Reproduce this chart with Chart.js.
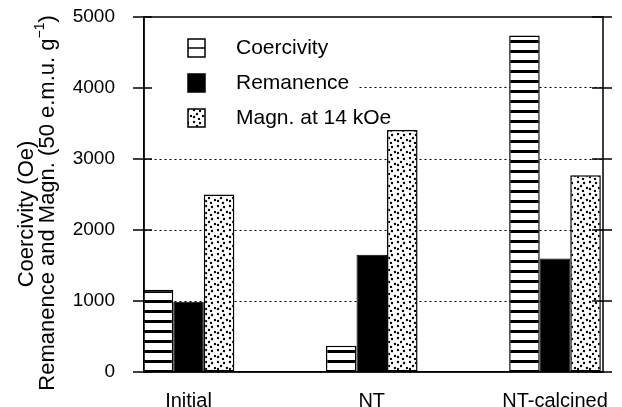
<!DOCTYPE html>
<html>
<head>
<meta charset="utf-8">
<script src="https://cdn.jsdelivr.net/npm/chart.js@4"></script>
<style>
html,body{margin:0;padding:0;background:#fff;}
#wrap{width:622px;height:407px;position:relative;}
</style>
</head>
<body>
<div id="wrap"><canvas id="c" width="622" height="407"></canvas></div>
<script>
// ---- data ----
const categories = ['Initial', 'NT', 'NT-calcined'];
const coercivity = [1160, 370, 4740];
const remanence = [990, 1650, 1600];
const magnetization = [2500, 3410, 2770];
const seriesLabels = ['Coercivity', 'Remanence', 'Magn. at 14 kOe'];
const yTicks = [0, 1000, 2000, 3000, 4000, 5000];
const titleLine1 = 'Coercivity (Oe)';
const titleLine2 = 'Remanence and Magn. (50 e.m.u. g';
const titleSup = '\u22121';
const titleEnd = ')';

const FONT = '"Liberation Sans", Arial, Helvetica, sans-serif';

// ---- patterns ----
function stripePattern() {
  const c = document.createElement('canvas');
  c.width = 8; c.height = 10;
  const x = c.getContext('2d');
  x.fillStyle = '#fff'; x.fillRect(0, 0, 8, 10);
  x.fillStyle = '#000'; x.fillRect(0, 0, 8, 3);
  return x.createPattern(c, 'repeat');
}
function dotPattern() {
  const c = document.createElement('canvas');
  c.width = 12; c.height = 12;
  const x = c.getContext('2d');
  x.fillStyle = '#fff'; x.fillRect(0, 0, 12, 12);
  x.fillStyle = '#000';
  const pts = [[2, 2], [8, 3], [5, 6], [11, 8], [2, 9], [7, 11]];
  pts.forEach(p => { x.beginPath(); x.arc(p[0], p[1], 1.2, 0, Math.PI * 2); x.fill(); });
  return x.createPattern(c, 'repeat');
}
const ctx0 = document.getElementById('c').getContext('2d');
const stripes = stripePattern();
const dots = dotPattern();

const toXY = arr => arr.map((v, i) => ({ x: i, y: v }));

// ---- plugins ----
const coverPlugin = {
  id: 'cover',
  beforeDatasetsDraw(chart) {
    const { ctx, chartArea } = chart;
    ctx.save();
    ctx.fillStyle = '#fff';
    ctx.fillRect(chartArea.left + 1, chartArea.top + 2, 358 - chartArea.left, 118);
    ctx.restore();
  }
};

const framePlugin = {
  id: 'frame',
  afterDatasetsDraw(chart) {
    const { ctx, chartArea, scales } = chart;
    const y = scales.y;
    ctx.save();
    ctx.strokeStyle = '#000';
    ctx.lineWidth = 1.5;
    ctx.beginPath();
    ctx.moveTo(chartArea.left, chartArea.top);
    ctx.lineTo(chartArea.right, chartArea.top);
    ctx.lineTo(chartArea.right, chartArea.bottom);
    ctx.lineTo(chartArea.left, chartArea.bottom);
    ctx.lineTo(chartArea.left, chartArea.top);
    ctx.stroke();
    yTicks.forEach(v => {
      const py = y.getPixelForValue(v);
      ctx.beginPath();
      ctx.moveTo(chartArea.left - 11, py); ctx.lineTo(chartArea.left + 8, py);
      ctx.moveTo(chartArea.right - 11, py); ctx.lineTo(chartArea.right + 9, py);
      ctx.stroke();
    });
    ctx.restore();
  },
  afterDraw(chart) {
    const { ctx } = chart;
    const TS = 22;
    ctx.save();
    ctx.fillStyle = '#000';
    ctx.font = TS + 'px ' + FONT;
    ctx.textBaseline = 'middle';
    ctx.translate(27, 214);
    ctx.rotate(-Math.PI / 2);
    ctx.textAlign = 'center';
    ctx.fillText(titleLine1, 0, 0);
    ctx.restore();

    ctx.save();
    ctx.fillStyle = '#000';
    ctx.textBaseline = 'middle';
    ctx.translate(48, 203);
    ctx.rotate(-Math.PI / 2);
    ctx.textAlign = 'left';
    ctx.font = TS + 'px ' + FONT;
    const w1 = ctx.measureText(titleLine2).width;
    const w3 = ctx.measureText(titleEnd).width;
    ctx.font = '14px ' + FONT;
    const w2 = ctx.measureText(titleSup).width;
    let x0 = -(w1 + w2 + w3) / 2;
    ctx.font = TS + 'px ' + FONT;
    ctx.fillText(titleLine2, x0, 0);
    ctx.font = '14px ' + FONT;
    ctx.fillText(titleSup, x0 + w1, -8);
    ctx.font = TS + 'px ' + FONT;
    ctx.fillText(titleEnd, x0 + w1 + w2, 0);
    ctx.restore();

    // Legend
    ctx.save();
    const rows = [48, 83, 118];
    const fills = [null, '#000', dots];
    ctx.font = '21px ' + FONT;
    ctx.textBaseline = 'middle';
    ctx.textAlign = 'left';
    chart.data.datasets.forEach((ds, i) => {
      const cy = rows[i];
      const bx = 188, bw = 17, bh = 18, by = cy - bh / 2;
      ctx.lineWidth = 1.5;
      ctx.strokeStyle = '#000';
      if (i === 0) {
        ctx.fillStyle = '#fff';
        ctx.fillRect(bx, by, bw, bh);
        ctx.strokeRect(bx, by, bw, bh);
        ctx.beginPath(); ctx.moveTo(bx, cy); ctx.lineTo(bx + bw, cy); ctx.stroke();
      } else {
        ctx.fillStyle = fills[i];
        ctx.fillRect(bx, by, bw, bh);
        ctx.strokeRect(bx, by, bw, bh);
      }
      ctx.fillStyle = '#000';
      ctx.fillText(ds.label, 236, cy);
    });
    ctx.restore();
  }
};

new Chart(ctx0, {
  type: 'bar',
  data: {
    datasets: [
      { label: seriesLabels[0], data: toXY(coercivity), backgroundColor: stripes, borderColor: '#000', borderWidth: 1.5, borderSkipped: false },
      { label: seriesLabels[1], data: toXY(remanence), backgroundColor: '#000', borderColor: '#000', borderWidth: 1 },
      { label: seriesLabels[2], data: toXY(magnetization), backgroundColor: dots, borderColor: '#000', borderWidth: 1.5, borderSkipped: false }
    ]
  },
  options: {
    responsive: false,
    animation: false,
    events: [],
    layout: { padding: { top: 17, right: 19, left: 0, bottom: 0 } },
    categoryPercentage: 0.5,
    barPercentage: 1.0,
    plugins: { legend: { display: false }, tooltip: { enabled: false } },
    scales: {
      x: {
        type: 'linear',
        min: -0.243,
        max: 2.262,
        offset: false,
        afterBuildTicks: s => { s.ticks = categories.map((_, i) => ({ value: i })); },
        afterFit: s => { s.height = 35; s.paddingLeft = 0; s.paddingRight = 0; },
        grid: { display: false, drawTicks: false },
        border: { display: true, color: '#000', width: 1.5 },
        ticks: {
          callback: v => categories[v],
          font: { family: FONT, size: 20 },
          color: '#000',
          padding: 17,
          maxRotation: 0,
          autoSkip: false
        }
      },
      y: {
        min: 0,
        max: 5000,
        afterBuildTicks: s => { s.ticks = yTicks.map(v => ({ value: v })); },
        afterFit: s => { s.width = 144; s.paddingTop = 0; s.paddingBottom = 0; },
        grid: {
          drawTicks: false,
          color: c => (c.tick && (c.tick.value === 0 || c.tick.value === 5000)) ? 'rgba(0,0,0,0)' : '#000',
          lineWidth: 1
        },
        border: { display: true, color: '#000', width: 1.5, dash: [2, 3] },
        ticks: {
          callback: v => String(v),
          font: { family: FONT, size: 19 },
          color: '#000',
          padding: 29
        }
      }
    }
  },
  plugins: [coverPlugin, framePlugin]
});
</script>
</body>
</html>
